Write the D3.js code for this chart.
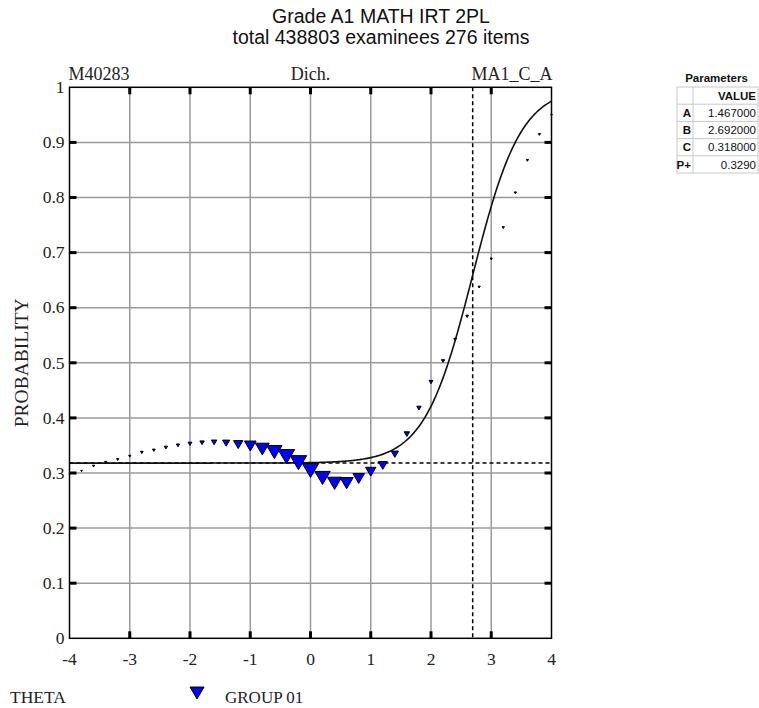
<!DOCTYPE html>
<html>
<head>
<meta charset="utf-8">
<script src="https://cdn.jsdelivr.net/npm/d3@7"></script>
<style>
  body { margin: 0; background: #fff; }
  svg { display: block; }
</style>
</head>
<body>
<svg id="chart" width="759" height="708"></svg>
<script>
// Observed proportion correct by theta group
const thetaPoints = [-4.0, -3.8, -3.6, -3.4, -3.2, -3.0, -2.8, -2.6, -2.4, -2.2, -2.0,
  -1.8, -1.6, -1.4, -1.2, -1.0, -0.8, -0.6, -0.4, -0.2, 0.0,
  0.2, 0.4, 0.6, 0.8, 1.0, 1.2, 1.4, 1.6, 1.8, 2.0,
  2.2, 2.4, 2.6, 2.8, 3.0, 3.2, 3.4, 3.6, 3.8, 4.0];
const observedP = [0.298, 0.304, 0.313, 0.320, 0.325, 0.331, 0.338, 0.342, 0.347, 0.351, 0.354,
  0.356, 0.357, 0.356, 0.354, 0.352, 0.347, 0.342, 0.334, 0.323, 0.309,
  0.295, 0.285, 0.285, 0.293, 0.305, 0.316, 0.336, 0.372, 0.419, 0.466,
  0.504, 0.543, 0.585, 0.638, 0.689, 0.746, 0.809, 0.868, 0.915, 0.950];
// Examinees in each theta group (sets marker size)
const groupCounts = [140, 300, 550, 550, 550, 550, 850, 850, 1230, 1230, 1700,
  2200, 3400, 5800, 10000, 15600, 21400, 26800, 30800, 30800, 30800,
  26800, 23100, 19700, 15100, 12300, 9400, 6100, 3400, 2200, 1700,
  1230, 850, 850, 550, 550, 550, 550, 550, 550, 300];

// Item parameters
const itemA = 1.467, itemB = 2.692, itemC = 0.318;
const paramNames = ["A", "B", "C", "P+"];
const paramValues = ["1.467000", "2.692000", "0.318000", "0.3290"];

// Axis ticks
const xTicks = [-4, -3, -2, -1, 0, 1, 2, 3, 4];
const xTickLabels = ["-4", "-3", "-2", "-1", "0", "1", "2", "3", "4"];
const yTicks = [0, 0.1, 0.2, 0.3, 0.4, 0.5, 0.6, 0.7, 0.8, 0.9, 1];
const yTickLabels = ["0", "0.1", "0.2", "0.3", "0.4", "0.5", "0.6", "0.7", "0.8", "0.9", "1"];

const serif = "'Liberation Serif', 'Times New Roman', serif";
const sans = "'Liberation Sans', Arial, sans-serif";

const svg = d3.select("#chart");
const pLeft = 69.5, pRight = 551.5, pTop = 87.3, pBottom = 638.3;
const x = d3.scaleLinear().domain([-4, 4]).range([pLeft, pRight]);
const y = d3.scaleLinear().domain([0, 1]).range([pBottom, pTop]);
const size = d3.scaleSqrt().domain([0, 30800]).range([0, 16.5]);

// 3PL item characteristic curve
const icc = t => itemC + (1 - itemC) / (1 + Math.exp(-1.7 * itemA * (t - itemB)));

// Title
svg.append("text").attr("x", 381).attr("y", 23).attr("text-anchor", "middle")
  .attr("font-family", sans).attr("font-size", 19.5).attr("fill", "#111")
  .text("Grade A1 MATH IRT 2PL");
svg.append("text").attr("x", 381).attr("y", 44).attr("text-anchor", "middle")
  .attr("font-family", sans).attr("font-size", 19.5).attr("fill", "#111")
  .text("total 438803 examinees 276 items");

// Header labels above the plot
const hdr = svg.append("g").attr("font-family", serif).attr("font-size", 18).attr("fill", "#222");
hdr.append("text").attr("x", pLeft - 1).attr("y", 80).text("M40283");
hdr.append("text").attr("x", x(0)).attr("y", 80).attr("text-anchor", "middle").text("Dich.");
hdr.append("text").attr("x", pRight + 1).attr("y", 80).attr("text-anchor", "end").text("MA1_C_A");

// Grid
const grid = svg.append("g").attr("stroke", "#9a9a9a").attr("stroke-width", 1.5);
grid.selectAll("line.v").data(xTicks.slice(1, -1)).join("line").attr("class", "v")
  .attr("x1", d => x(d)).attr("x2", d => x(d)).attr("y1", pTop).attr("y2", pBottom);
grid.selectAll("line.h").data(yTicks.slice(1, -1)).join("line").attr("class", "h")
  .attr("x1", pLeft).attr("x2", pRight).attr("y1", d => y(d)).attr("y2", d => y(d));

// Reference lines at B (difficulty) and C (guessing)
const ref = svg.append("g").attr("stroke", "#000").attr("stroke-width", 1.5).attr("stroke-dasharray", "4,3");
ref.append("line").attr("x1", x(itemB)).attr("x2", x(itemB)).attr("y1", pTop).attr("y2", pBottom);
ref.append("line").attr("x1", pLeft).attr("x2", pRight).attr("y1", y(itemC)).attr("y2", y(itemC));

// Curve
const curveT = d3.range(-4, 4.0001, 0.02);
svg.append("path").datum(curveT)
  .attr("fill", "none").attr("stroke", "#111").attr("stroke-width", 1.6)
  .attr("d", d3.line().x(d => x(d)).y(d => y(icc(d))));

// Observed points: downward triangles
const tri = w => {
  const h = w * 0.85;
  return `M${-w / 2},${-h / 3}L${w / 2},${-h / 3}L0,${2 * h / 3}Z`;
};
svg.append("g").selectAll("path").data(thetaPoints).join("path")
  .attr("transform", (d, i) => `translate(${x(d)},${y(observedP[i])})`)
  .attr("d", (d, i) => tri(size(groupCounts[i])))
  .attr("fill", "#0000ff").attr("stroke", "#000").attr("stroke-width", 1)
  .attr("stroke-linejoin", "miter");

// Tick marks on all four sides, pointing inward
const tk = svg.append("g").attr("fill", "#000");
const tl = 7, tw = 3;
tk.selectAll("rect.t").data(xTicks.slice(1, -1)).join("rect").attr("class", "t")
  .attr("x", d => x(d) - tw / 2).attr("y", pTop).attr("width", tw).attr("height", tl);
tk.selectAll("rect.b").data(xTicks.slice(1, -1)).join("rect").attr("class", "b")
  .attr("x", d => x(d) - tw / 2).attr("y", pBottom - tl).attr("width", tw).attr("height", tl);
tk.selectAll("rect.l").data(yTicks.slice(1, -1)).join("rect").attr("class", "l")
  .attr("x", pLeft).attr("y", d => y(d) - tw / 2).attr("width", tl).attr("height", tw);
tk.selectAll("rect.r").data(yTicks.slice(1, -1)).join("rect").attr("class", "r")
  .attr("x", pRight - tl).attr("y", d => y(d) - tw / 2).attr("width", tl).attr("height", tw);

// Frame
svg.append("rect").attr("x", pLeft).attr("y", pTop).attr("width", pRight - pLeft).attr("height", pBottom - pTop)
  .attr("fill", "none").attr("stroke", "#000").attr("stroke-width", 1.5);

// Axis labels
const yl = svg.append("g").attr("font-family", serif).attr("font-size", 17.5).attr("fill", "#222");
yl.selectAll("text").data(yTicks).join("text")
  .attr("x", pLeft - 5).attr("y", d => y(d)).attr("dy", "0.33em").attr("text-anchor", "end")
  .text((d, i) => yTickLabels[i]);
const xl = svg.append("g").attr("font-family", serif).attr("font-size", 17.5).attr("fill", "#222");
xl.selectAll("text").data(xTicks).join("text")
  .attr("x", d => x(d)).attr("y", 665).attr("text-anchor", "middle")
  .text((d, i) => xTickLabels[i]);

svg.append("text").attr("transform", `translate(28,${y(0.5)}) rotate(-90)`)
  .attr("text-anchor", "middle").attr("font-family", serif).attr("font-size", 19.5).attr("fill", "#222")
  .text("PROBABILITY");

// Bottom labels and legend
svg.append("text").attr("x", 10).attr("y", 703).attr("font-family", serif).attr("font-size", 17.5).attr("fill", "#222").text("THETA");
svg.append("path").attr("transform", "translate(197,691)").attr("d", tri(14))
  .attr("fill", "#0000ff").attr("stroke", "#000").attr("stroke-width", 1);
svg.append("text").attr("x", 225).attr("y", 703).attr("font-family", serif).attr("font-size", 17).attr("fill", "#222").text("GROUP 01");

// Parameters table
const tx = 677, tCol = 693, tRight = 758, tTop = 87, rowH = 17.2;
svg.append("text").attr("x", (tx + tRight) / 2 - 1).attr("y", 82).attr("text-anchor", "middle")
  .attr("font-family", sans).attr("font-weight", "bold").attr("font-size", 11.5).attr("fill", "#111").text("Parameters");
const tb = svg.append("g");
const nRows = paramNames.length + 1;
tb.append("rect").attr("x", tx).attr("y", tTop).attr("width", tRight - tx).attr("height", nRows * rowH)
  .attr("fill", "#fff").attr("stroke", "#c8c8c8").attr("stroke-width", 1);
tb.selectAll("line.row").data(d3.range(1, nRows)).join("line").attr("class", "row")
  .attr("x1", tx).attr("x2", tRight).attr("y1", d => tTop + d * rowH).attr("y2", d => tTop + d * rowH)
  .attr("stroke", "#c8c8c8");
tb.append("line").attr("x1", tCol).attr("x2", tCol).attr("y1", tTop).attr("y2", tTop + nRows * rowH).attr("stroke", "#c8c8c8");
tb.append("text").attr("x", tRight - 2).attr("y", tTop + rowH - 4.5).attr("text-anchor", "end")
  .attr("font-family", sans).attr("font-weight", "bold").attr("font-size", 11.5).attr("fill", "#111").text("VALUE");
tb.selectAll("text.name").data(paramNames).join("text").attr("class", "name")
  .attr("x", tCol - 2).attr("y", (d, i) => tTop + (i + 2) * rowH - 4.5).attr("text-anchor", "end")
  .attr("font-family", sans).attr("font-weight", "bold").attr("font-size", 11.5).attr("fill", "#111").text(d => d);
tb.selectAll("text.val").data(paramValues).join("text").attr("class", "val")
  .attr("x", tRight - 2).attr("y", (d, i) => tTop + (i + 2) * rowH - 4.5).attr("text-anchor", "end")
  .attr("font-family", sans).attr("font-size", 11.5).attr("fill", "#111").text(d => d);
</script>
</body>
</html>
